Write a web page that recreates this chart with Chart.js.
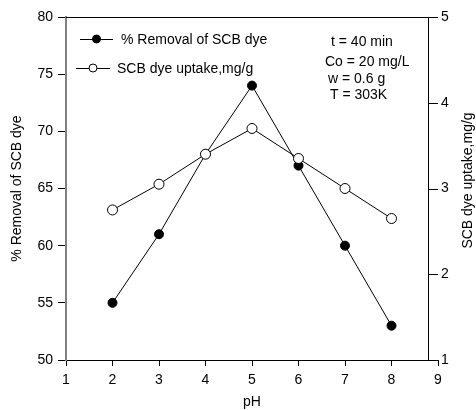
<!DOCTYPE html>
<html>
<head>
<meta charset="utf-8">
<title>pH effect</title>
<script src="https://cdn.jsdelivr.net/npm/chart.js@4.4.1/dist/chart.umd.min.js"></script>
<style>
    html, body { margin: 0; padding: 0; background: #fff; }
    #wrap { width: 476px; height: 410px; }
</style>
</head>
<body>
<div id="wrap"><canvas id="phChart" width="476" height="410"></canvas></div>
<script>
// Datos
const phValues = [2, 3, 4, 5, 6, 7, 8];
const removalPct = [55, 61, 68, 74, 67, 60, 53];
const dyeUptake = [2.75, 3.05, 3.4, 3.7, 3.35, 3.0, 2.65];
const seriesLabels = ['% Removal of SCB dye', 'SCB dye uptake,mg/g'];
const conditionLines = ['t = 40 min', 'Co = 20 mg/L', 'w = 0.6 g', 'T = 303K'];

const FONT = '"Liberation Sans", Arial, sans-serif';
const FONT_SIZE = 14;

function toPoints(ys) {
    return phValues.map((x, i) => ({x: x, y: ys[i]}));
}

// Marco derecho, leyenda y textos
const extrasPlugin = {
    id: 'extras',
    afterDraw(chart) {
        const ctx = chart.ctx;
        const area = chart.chartArea;
        const y2 = chart.scales.y2;
        const frameRight = area.right - 10;

        ctx.save();
        ctx.strokeStyle = '#000';
        ctx.lineWidth = 1;
        ctx.beginPath();
        ctx.moveTo(area.left, area.top + 0.5);
        ctx.lineTo(frameRight, area.top + 0.5);
        ctx.moveTo(frameRight + 0.5, area.top);
        ctx.lineTo(frameRight + 0.5, area.bottom);
        y2.ticks.forEach(t => {
            const py = Math.round(y2.getPixelForValue(t.value)) + 0.5;
            ctx.moveTo(frameRight, py);
            ctx.lineTo(area.right, py);
        });
        ctx.stroke();

        // título del eje derecho (de abajo hacia arriba)
        ctx.fillStyle = '#000';
        ctx.font = FONT_SIZE + 'px ' + FONT;
        ctx.textAlign = 'center';
        ctx.textBaseline = 'middle';
        ctx.save();
        ctx.translate(468, (area.top + area.bottom) / 2 - 8);
        ctx.rotate(-Math.PI / 2);
        ctx.fillText(seriesLabels[1], 0, 0);
        ctx.restore();

        // leyenda
        const rows = [
            {x0: 80, x1: 113, y: 39, tx: 121},
            {x0: 76, x1: 110, y: 68, tx: 117}
        ];
        ctx.textAlign = 'left';
        chart.data.datasets.forEach((ds, i) => {
            const r = rows[i];
            ctx.strokeStyle = '#000';
            ctx.lineWidth = 1;
            ctx.beginPath();
            ctx.moveTo(r.x0, r.y + 0.5);
            ctx.lineTo(r.x1, r.y + 0.5);
            ctx.stroke();
            ctx.beginPath();
            ctx.arc((r.x0 + r.x1) / 2, r.y, 4, 0, Math.PI * 2);
            ctx.fillStyle = ds.pointBackgroundColor;
            ctx.fill();
            ctx.stroke();
            ctx.fillStyle = '#000';
            ctx.fillText(seriesLabels[i], r.tx, r.y + 1);
        });

        // condiciones
        const condX = [331, 325, 328, 330];
        const condY = [42, 62, 79, 95];
        conditionLines.forEach((txt, i) => {
            ctx.fillText(txt, condX[i], condY[i]);
        });
        ctx.restore();
    }
};

const ctx = document.getElementById('phChart').getContext('2d');
const phChart = new Chart(ctx, {
    type: 'line',
    data: {
        datasets: [{
            label: seriesLabels[0],
            data: toPoints(removalPct),
            yAxisID: 'y',
            borderColor: '#000',
            borderWidth: 1,
            pointRadius: 4.5,
            pointBackgroundColor: '#000',
            pointBorderColor: '#000',
            pointBorderWidth: 1,
            tension: 0,
            order: 1
        }, {
            label: seriesLabels[1],
            data: toPoints(dyeUptake),
            yAxisID: 'y2',
            borderColor: '#000',
            borderWidth: 1,
            pointRadius: 5,
            pointBackgroundColor: '#fff',
            pointBorderColor: '#000',
            pointBorderWidth: 1,
            tension: 0,
            order: 0
        }]
    },
    options: {
        responsive: false,
        animation: false,
        layout: {padding: {top: 17, left: 0, right: 0, bottom: 0}},
        plugins: {
            legend: {display: false},
            tooltip: {enabled: false}
        },
        scales: {
            x: {
                type: 'linear',
                min: 1,
                max: 9,
                afterFit: s => { s.height = 50; },
                ticks: {stepSize: 1, color: '#000', padding: 6, font: {family: FONT, size: FONT_SIZE}},
                grid: {drawOnChartArea: false, color: '#000', tickLength: 6},
                border: {color: '#000', width: 1},
                title: {display: true, text: 'pH', color: '#000', padding: {top: 0, bottom: -1}, font: {family: FONT, size: FONT_SIZE}}
            },
            y: {
                position: 'left',
                min: 50,
                max: 80,
                afterFit: s => { s.width = 66; },
                ticks: {stepSize: 5, color: '#000', padding: 5, font: {family: FONT, size: FONT_SIZE}},
                grid: {drawOnChartArea: false, color: '#000', tickLength: 8},
                border: {color: '#808080', width: 2},
                title: {display: true, text: seriesLabels[0], color: '#000', padding: {top: 9, bottom: 0}, font: {family: FONT, size: FONT_SIZE}}
            },
            y2: {
                position: 'right',
                min: 1,
                max: 5,
                afterFit: s => { s.width = 38; },
                ticks: {stepSize: 1, color: '#000', padding: 3, font: {family: FONT, size: FONT_SIZE}},
                grid: {display: false, drawTicks: false},
                border: {display: false}
            }
        }
    },
    plugins: [extrasPlugin]
});
</script>
</body>
</html>
